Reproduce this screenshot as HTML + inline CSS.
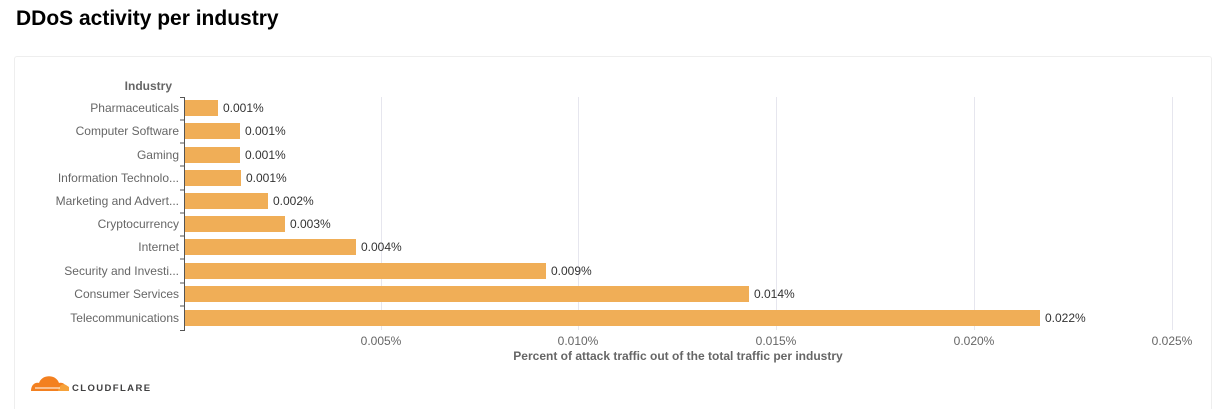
<!DOCTYPE html>
<html style="width:1226px;height:409px;overflow:hidden;"><head><style>
body{margin:0;background:#fff;font-family:"Liberation Sans",sans-serif;width:1226px;height:409px;overflow:hidden;position:relative;}
h1{position:absolute;left:16px;top:7px;margin:0;font-size:21px;font-weight:bold;color:#000;}
.card{position:absolute;left:14px;top:56px;width:1198px;height:353px;border:1px solid #eee;border-bottom:none;border-radius:3px 3px 0 0;box-sizing:border-box;}
</style></head><body>
<h1>DDoS activity per industry</h1>
<div class="card"></div>
<svg width="1226" height="409" style="position:absolute;left:0;top:0" font-family="Liberation Sans, sans-serif">
<g stroke="#e6e6ee" stroke-width="1">
<line x1="381.5" y1="97" x2="381.5" y2="330"/><line x1="578.5" y1="97" x2="578.5" y2="330"/>
<line x1="776.5" y1="97" x2="776.5" y2="330"/><line x1="974.5" y1="97" x2="974.5" y2="330"/>
<line x1="1172.5" y1="97" x2="1172.5" y2="330"/>
</g>
<path d="M180 97.5H184.5V330.5H180" fill="none" stroke="#555" stroke-width="1"/>
<g stroke="#555"><line x1="180" y1="120" x2="184" y2="120"/><line x1="180" y1="143" x2="184" y2="143"/><line x1="180" y1="166" x2="184" y2="166"/><line x1="180" y1="190" x2="184" y2="190"/><line x1="180" y1="213" x2="184" y2="213"/><line x1="180" y1="236" x2="184" y2="236"/><line x1="180" y1="259" x2="184" y2="259"/><line x1="180" y1="283" x2="184" y2="283"/><line x1="180" y1="306" x2="184" y2="306"/></g>
<text x="172" y="90" font-size="12" font-weight="bold" fill="#666" text-anchor="end">Industry</text>
<g font-size="12" fill="#666" text-anchor="end">
<text x="179" y="112">Pharmaceuticals</text><text x="179" y="135">Computer Software</text><text x="179" y="159">Gaming</text><text x="179" y="182">Information Technolo...</text><text x="179" y="205">Marketing and Advert...</text><text x="179" y="228">Cryptocurrency</text><text x="179" y="251">Internet</text><text x="179" y="275">Security and Investi...</text><text x="179" y="298">Consumer Services</text><text x="179" y="322">Telecommunications</text>
</g>
<g fill="#f0ae57">
<rect x="185" y="100" width="33" height="16"/><rect x="185" y="123" width="55" height="16"/><rect x="185" y="147" width="55" height="16"/><rect x="185" y="170" width="56" height="16"/><rect x="185" y="193" width="83" height="16"/><rect x="185" y="216" width="100" height="16"/><rect x="185" y="239" width="171" height="16"/><rect x="185" y="263" width="361" height="16"/><rect x="185" y="286" width="564" height="16"/><rect x="185" y="310" width="855" height="16"/>
</g>
<g font-size="12" fill="#333">
<text x="223" y="112">0.001%</text><text x="245" y="135">0.001%</text><text x="245" y="159">0.001%</text><text x="246" y="182">0.001%</text><text x="273" y="205">0.002%</text><text x="290" y="228">0.003%</text><text x="361" y="251">0.004%</text><text x="551" y="275">0.009%</text><text x="754" y="298">0.014%</text><text x="1045" y="322">0.022%</text>
</g>
<g font-size="12" fill="#666" text-anchor="middle">
<text x="381" y="345">0.005%</text><text x="578" y="345">0.010%</text><text x="776" y="345">0.015%</text><text x="974" y="345">0.020%</text><text x="1172" y="345">0.025%</text>
</g>
<text x="678" y="360" font-size="12" font-weight="bold" fill="#666" text-anchor="middle">Percent of attack traffic out of the total traffic per industry</text>
<path d="M31 391 C31 385 35 382 39 383 C42 374 56 374 59 383 C63 382 66 385 66 387 L69 387 L69 391 Z" fill="#f38020"/>
<path d="M58 391 C59 385 63 383 66 385 L69 387 L69 391 Z" fill="#f6a23a"/>
<line x1="35" y1="388" x2="60" y2="388" stroke="#fff" stroke-width="1"/>
<text x="72" y="391" font-size="9.5" font-weight="bold" fill="#404041" letter-spacing="1.4">CLOUDFLARE</text>
</svg>
</body></html>
